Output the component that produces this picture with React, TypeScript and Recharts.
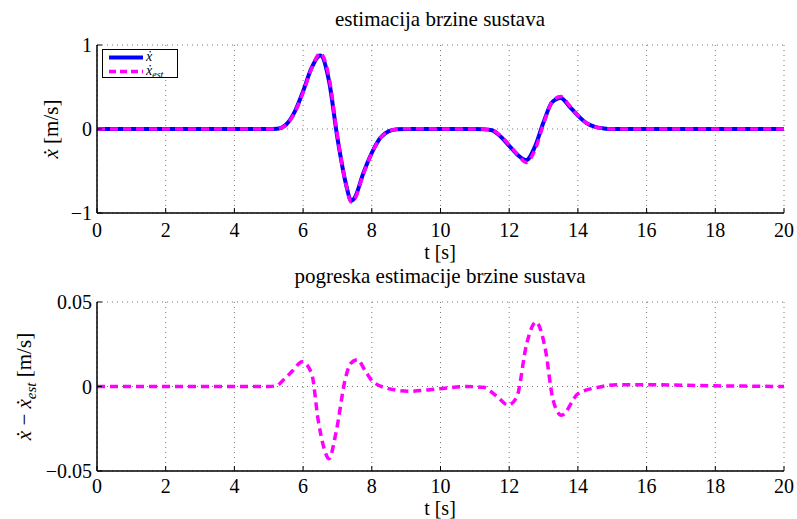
import React, { FC, ReactNode } from 'react';
import { CartesianGrid, Customized, Line, LineChart, XAxis, YAxis } from 'recharts';

const FONT = 'Liberation Serif';

// tick values
const timeTicks = [0, 2, 4, 6, 8, 10, 12, 14, 16, 18, 20];
const velTicks = [-1, 0, 1];
const errTicks = [-0.05, 0, 0.05];

// top panel: velocity and its estimate
const velTime = [
  0, 2, 4, 4.75, 5, 5.25, 5.5, 5.75, 6, 6.25, 6.5, 6.75, 7, 7.25, 7.4, 7.5, 7.75, 8, 8.25, 8.5, 8.75,
  9, 9.5, 10, 10.5, 11, 11.25, 11.5, 11.75, 12, 12.25, 12.5, 12.75, 13, 13.25, 13.5, 13.75, 14,
  14.25, 14.5, 14.75, 15, 16, 18, 20,
];
const velocity = [
  0, 0, 0, 0, 0, 0.003, 0.05, 0.2, 0.45, 0.73, 0.875, 0.58, -0.11, -0.66, -0.855, -0.82, -0.53,
  -0.285, -0.105, -0.025, -0.004, 0, 0, 0, 0, 0, -0.002, -0.015, -0.09, -0.2, -0.31, -0.37, -0.21,
  0.08, 0.32, 0.37, 0.27, 0.16, 0.07, 0.025, 0.007, 0, 0, 0, 0,
];
const velocityEst = [
  0, 0, 0, 0, 0, 0.0025, 0.046, 0.19, 0.435, 0.722, 0.902, 0.6225, -0.086, -0.665, -0.869, -0.835,
  -0.541, -0.288, -0.106, -0.024, -0.002, 0.0027, 0.002, 0.0013, 0, 0, -0.0015, -0.012, -0.082,
  -0.189, -0.305, -0.398, -0.248, 0.06, 0.325, 0.387, 0.281, 0.164, 0.072, 0.0255, 0.0065, -0.001,
  -0.001, -0.0004, 0,
];

// bottom panel: estimation error
const errTime = [
  0, 2, 4, 5, 5.23, 5.42, 5.71, 5.97, 6.25, 6.44, 6.6, 6.75, 6.97, 7.22, 7.38, 7.58, 7.8, 8.04, 8.62,
  9.11, 9.89, 10.76, 11.25, 11.64, 11.97, 12.22, 12.51, 12.78, 13.04, 13.28, 13.52, 14.01, 14.64,
  15.13, 16.1, 17, 18, 19, 20,
];
const velError = [
  0, 0, 0, 0, 0.0005, 0.0037, 0.0096, 0.0147, 0.0076, -0.02, -0.0358, -0.0427, -0.026, 0.0037,
  0.0135, 0.0159, 0.0096, 0.0027, -0.0018, -0.0028, -0.0015, 0, -0.0005, -0.0058, -0.011, -0.0062,
  0.0254, 0.0382, 0.0234, -0.0082, -0.017, -0.0042, -0.0003, 0.0011, 0.0011, 0.0008, 0.0004,
  0.0002, 0,
];

const velData = velTime.map((t, i) => ({ t, x: velocity[i], xEst: velocityEst[i] }));
const errData = errTime.map((t, i) => ({ t, e: velError[i] }));

const fmt = (v: number) => String(v).replace('-', '\u2212');
const blank = () => '';

const tickStyle = { fontFamily: FONT, fontSize: 20, fill: '#000', style: { fontFamily: FONT } };

type PanelProps = {
  data: any[];
  top: number;
  height: number;
  plotTop: number;
  plotBottom: number;
  xTickMargin: number;
  xLabelGap: number;
  yDomain: [number, number];
  yTicks: number[];
  title: string;
  yLabel: ReactNode;
  yLabelX: number;
  children?: ReactNode;
  extra?: ReactNode;
};

const Panel: FC<PanelProps> = ({
  data, top, height, plotTop, plotBottom, xTickMargin, xLabelGap, yDomain, yTicks, title, yLabel,
  yLabelX, children, extra,
}) => {
  const midY = (plotTop + plotBottom) / 2;
  const decor = (
    <g style={{ fontFamily: FONT }} fill="#000">
      <text x={440} y={plotTop - 19} fontSize={21} textAnchor="middle">{title}</text>
      <text x={440} y={plotBottom + xLabelGap} fontSize={20} textAnchor="middle">t [s]</text>
      <text
        x={yLabelX}
        y={midY}
        fontSize={21}
        textAnchor="middle"
        dy="0.35em"
        transform={`rotate(-90 ${yLabelX} ${midY})`}
      >
        {yLabel}
      </text>
      {extra}
    </g>
  );
  return (
    <div style={{ position: 'absolute', left: 0, top }}>
      <LineChart
        width={797}
        height={height}
        data={data}
        margin={{ top: plotTop, right: 13, bottom: 0, left: 0 }}
        style={{ display: 'block', fontFamily: FONT }}
      >
        <CartesianGrid stroke="#777" strokeDasharray="1 4" strokeWidth={1} />
        <XAxis
          dataKey="t"
          type="number"
          domain={[0, 20]}
          ticks={timeTicks}
          height={height - plotBottom}
          tickSize={-5}
          tickMargin={xTickMargin}
          tick={tickStyle}
          axisLine={{ stroke: '#000', strokeWidth: 1.5 }}
          tickLine={{ stroke: '#000' }}
        />
        <XAxis
          xAxisId="top"
          dataKey="t"
          type="number"
          orientation="top"
          domain={[0, 20]}
          ticks={timeTicks}
          height={0}
          tickSize={-5}
          tickFormatter={blank}
          axisLine={{ stroke: '#000', strokeWidth: 1.5 }}
          tickLine={{ stroke: '#000' }}
        />
        <YAxis
          type="number"
          domain={yDomain}
          ticks={yTicks}
          width={97}
          tickSize={-5}
          tickMargin={10}
          tickFormatter={fmt}
          tick={tickStyle}
          allowDataOverflow
          axisLine={{ stroke: '#000', strokeWidth: 1.5 }}
          tickLine={{ stroke: '#000' }}
        />
        <YAxis
          yAxisId="right"
          orientation="right"
          type="number"
          domain={yDomain}
          ticks={yTicks}
          width={0}
          tickSize={-5}
          tickFormatter={blank}
          axisLine={{ stroke: '#000', strokeWidth: 1.5 }}
          tickLine={{ stroke: '#000' }}
        />
        {children}
        <Customized component={decor} />
      </LineChart>
    </div>
  );
};

const topLegend = (
  <g>
    <rect x={102.5} y={49.5} width={75} height={28} fill="#fff" stroke="#000" strokeWidth={1} />
    <line x1={109} y1={57.5} x2={143} y2={57.5} stroke="#0000ff" strokeWidth={4} />
    <line x1={109} y1={71.5} x2={143} y2={71.5} stroke="#ff00ff" strokeWidth={3.5} strokeDasharray="7 4" />
    <text x={146} y={61} fontSize={14} fontStyle="italic">ẋ</text>
    <text x={146} y={75} fontSize={14} fontStyle="italic">
      ẋ<tspan fontSize={10} dy={3}>est</tspan>
    </text>
  </g>
);

const errLabel = (
  <>
    <tspan fontStyle="italic">ẋ</tspan>
    <tspan> − </tspan>
    <tspan fontStyle="italic">ẋ</tspan>
    <tspan fontStyle="italic" fontSize={15} dy={5}>est</tspan>
    <tspan dy={-5}>{'  [m/s]'}</tspan>
  </>
);

const App: FC = () => (
  <div
    style={{
      position: 'absolute', left: 0, top: 0, width: 797, height: 519, background: '#fff', fontFamily: FONT,
    }}
  >
    <Panel
      data={velData}
      top={0}
      height={268}
      plotTop={45}
      plotBottom={213}
      xTickMargin={15}
      xLabelGap={46}
      yDomain={[-1, 1]}
      yTicks={velTicks}
      title="estimacija brzine sustava"
      yLabel={
        <>
          <tspan fontStyle="italic">ẋ</tspan>
          <tspan>{' [m/s]'}</tspan>
        </>
      }
      yLabelX={51}
      extra={topLegend}
    >
      <Line
        type="monotone"
        dataKey="x"
        stroke="#0000ff"
        strokeWidth={4}
        dot={false}
        isAnimationActive={false}
      />
      <Line
        type="monotone"
        dataKey="xEst"
        stroke="#ff00ff"
        strokeWidth={3.5}
        strokeDasharray="8 5"
        dot={false}
        isAnimationActive={false}
      />
    </Panel>
    <Panel
      data={errData}
      top={260}
      height={259}
      plotTop={42}
      plotBottom={211}
      xTickMargin={13}
      xLabelGap={44}
      yDomain={[-0.05, 0.05]}
      yTicks={errTicks}
      title="pogreska estimacije brzine sustava"
      yLabel={errLabel}
      yLabelX={24}
    >
      <Line
        type="monotone"
        dataKey="e"
        stroke="#ff00ff"
        strokeWidth={3.5}
        strokeDasharray="8 5"
        dot={false}
        isAnimationActive={false}
      />
    </Panel>
  </div>
);

export default App;
